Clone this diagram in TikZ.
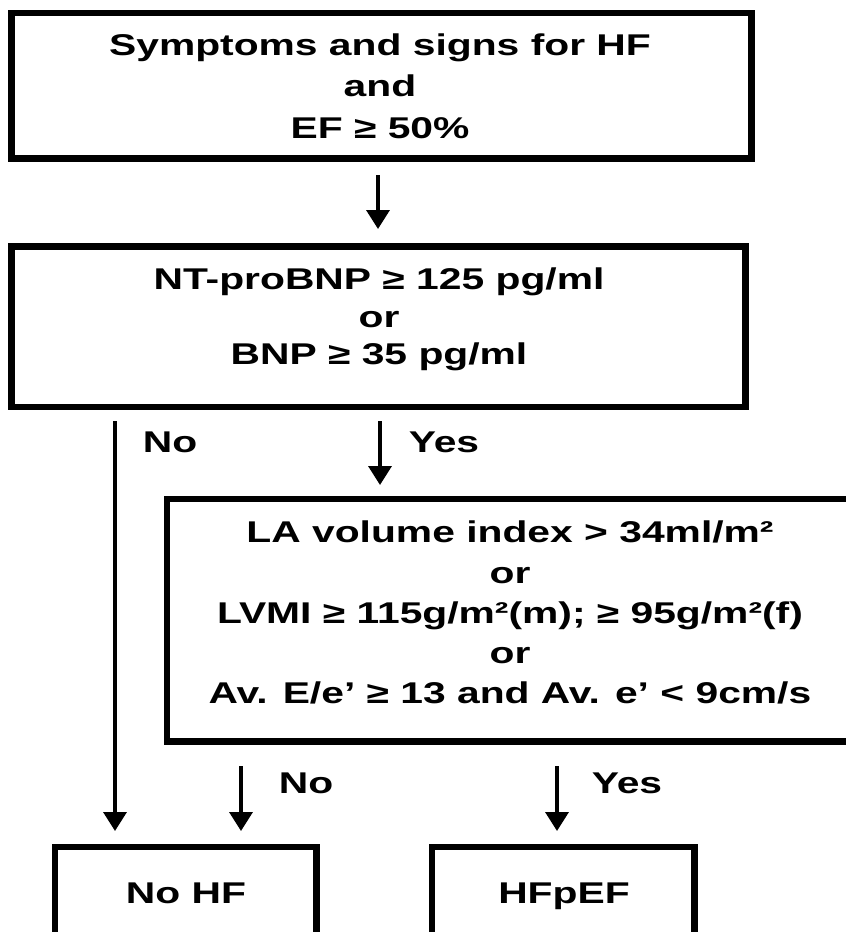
\documentclass[tikz,border=0pt]{standalone}
\usepackage{fontspec}
\newfontfamily\lbf{Liberation Sans Bold}[FakeStretch=1.36]
\usetikzlibrary{arrows.meta}
\begin{document}
\begin{tikzpicture}[x=1pt,y=-1pt,
  box/.style={draw=black, line width=6.5pt, inner sep=0pt, outer sep=0pt, rectangle},
  txt/.style={inner sep=0pt, align=center, text=black},
  arr/.style={draw=black, line width=3.5pt, -{Triangle[width=23pt,length=19pt]}}]
\useasboundingbox (0,0) rectangle (846,932);
\clip (0,0) rectangle (846,932);
\fill[white] (0,0) rectangle (846,932);
% boxes
\node[box, minimum width=740pt, minimum height=145.5pt] (b1) at (381.5,85.75) {};
\node[box, minimum width=734pt, minimum height=160.5pt] (b2) at (378.5,326.75) {};
\node[box, minimum width=686pt, minimum height=242.5pt] (b3) at (510,620.25) {};
\node[box, minimum width=261.5pt, minimum height=153pt] (b4) at (185.75,923.5) {};
\node[box, minimum width=262.5pt, minimum height=153pt] (b5) at (563.25,923.5) {};
% texts
\node[txt, font={\lbf\fontsize{30}{41.5}\selectfont}] (t1) at (380,86)
  {Symptoms and signs for HF\\and\\EF ≥ 50\%};
\node[txt, font={\lbf\fontsize{30}{37.5}\selectfont}] (t2) at (379,319.7)
  {NT-proBNP ≥ 125 pg/ml\\or\\BNP ≥ 35 pg/ml};
\node[txt, font={\lbf\fontsize{30}{40.25}\selectfont}] (t3) at (510,612.85)
  {LA volume index > 34ml/m²\\or\\LVMI ≥ 115g/m²(m); ≥ 95g/m²(f)\\or\\Av. E/e’ ≥ 13 and Av. e’ < 9cm/s};
\node[txt, anchor=base, font={\lbf\fontsize{30}{36}\selectfont}] (t4) at (186,903) {No HF};
\node[txt, anchor=base, font={\lbf\fontsize{30}{36}\selectfont}] (t5) at (564,903) {HFpEF};
% connector labels
\node[txt, anchor=base, font={\lbf\fontsize{30}{36}\selectfont}] (l1) at (170,452) {No};
\node[txt, anchor=base, font={\lbf\fontsize{30}{36}\selectfont}] (l2) at (444,452) {Yes};
\node[txt, anchor=base, font={\lbf\fontsize{30}{36}\selectfont}] (l3) at (306,793) {No};
\node[txt, anchor=base, font={\lbf\fontsize{30}{36}\selectfont}] (l4) at (627,793) {Yes};
% columns
\coordinate (cA) at (378,0);
\coordinate (cL) at (115,0);
\coordinate (cY) at (380,0);
\coordinate (cN) at (241,0);
\coordinate (cY2) at (557,0);
% connectors
\draw[arr, shorten <=16.5pt, shorten >=17.5pt] (b1.south -| cA) -- (b2.north -| cA);
\draw[arr, shorten <=14pt, shorten >=16pt] (b2.south -| cL) -- (b4.north -| cL);
\draw[arr, shorten <=14pt, shorten >=14pt] (b2.south -| cY) -- (b3.north -| cY);
\draw[arr, shorten <=24.5pt, shorten >=16pt] (b3.south -| cN) -- (b4.north -| cN);
\draw[arr, shorten <=24.5pt, shorten >=16pt] (b3.south -| cY2) -- (b5.north -| cY2);
\end{tikzpicture}
\end{document}
